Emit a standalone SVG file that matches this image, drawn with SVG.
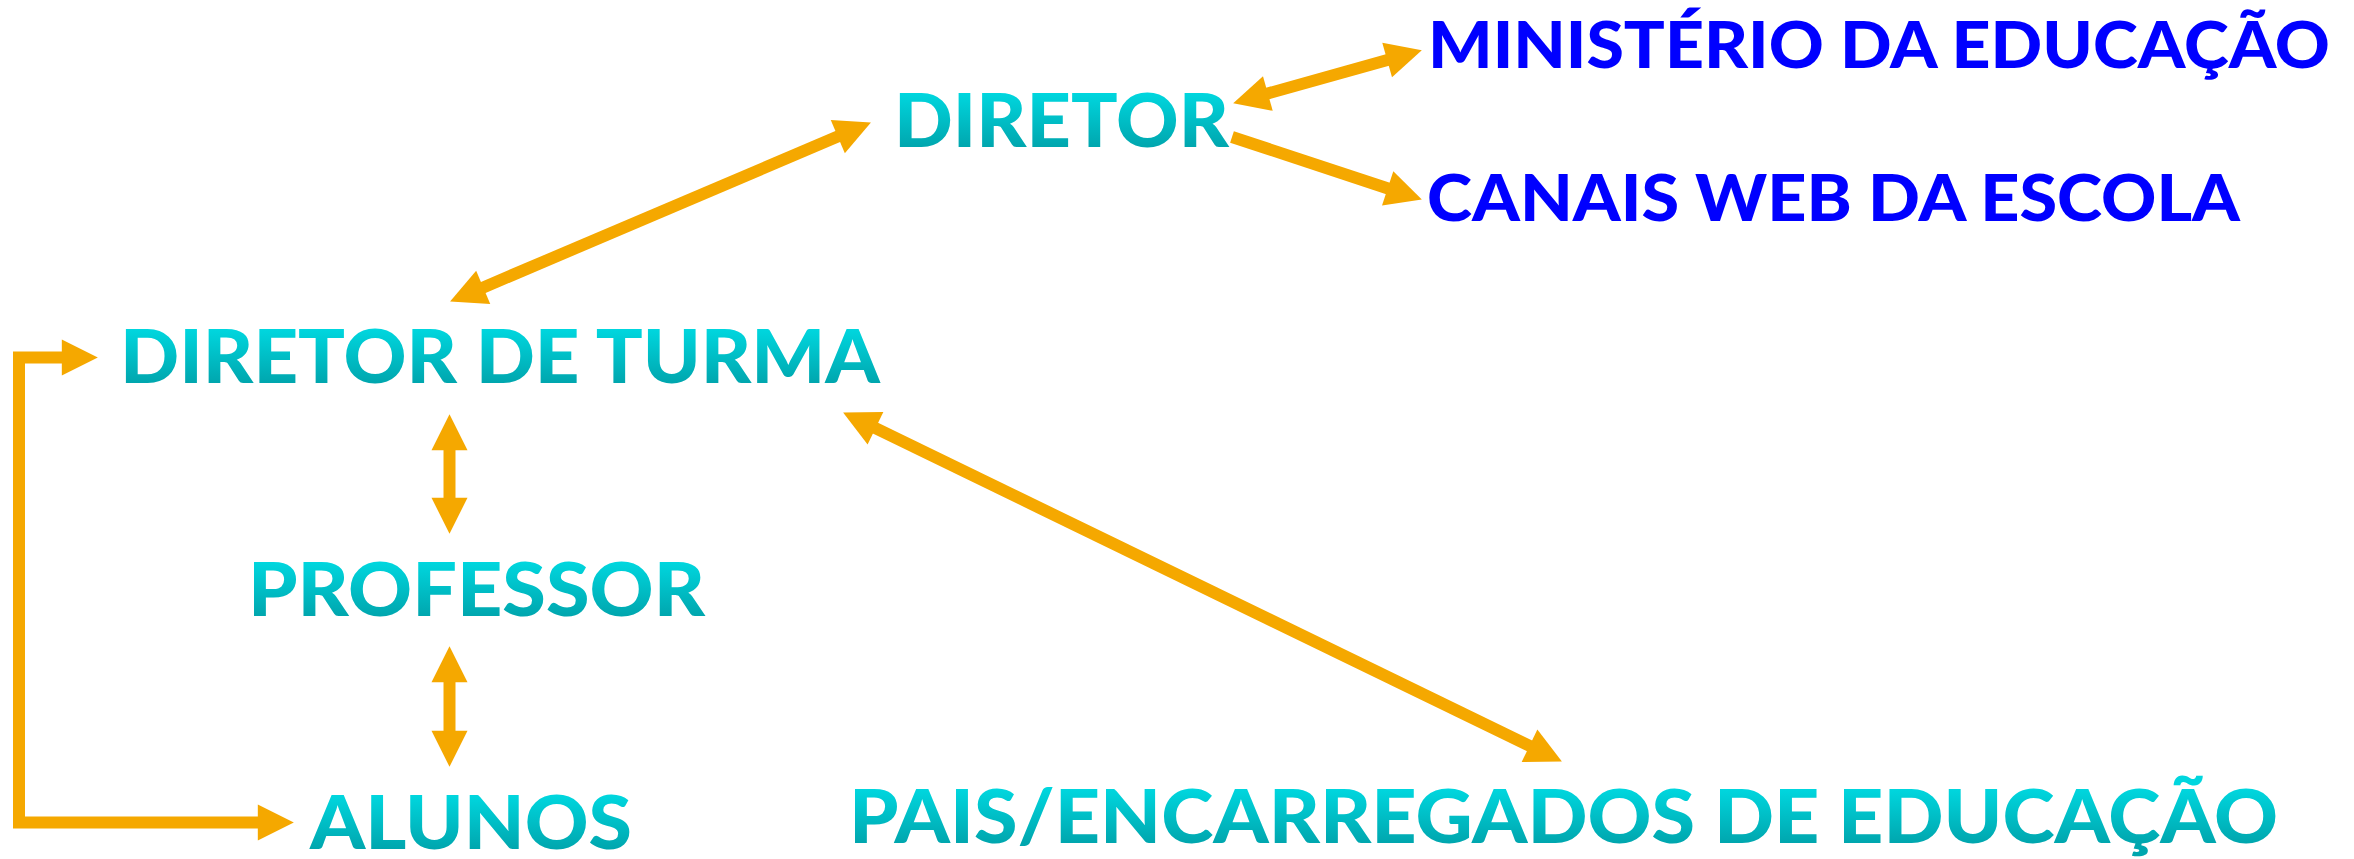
<svg xmlns="http://www.w3.org/2000/svg" width="2354" height="859" viewBox="0 0 2354 859">
  <defs>
    <linearGradient id="teal" x1="0" y1="0" x2="0" y2="1">
      <stop offset="0.22" stop-color="#00d6de"/>
      <stop offset="0.82" stop-color="#00a6ae"/>
    </linearGradient>
    <marker id="head" viewBox="0 -1.5 3 3" markerWidth="3" markerHeight="3" refX="0.1" refY="0" orient="auto-start-reverse" markerUnits="strokeWidth" overflow="visible">
      <path d="M0,-1.5 L3,0 L0,1.5 Z" fill="#f5a800"/>
    </marker>
    <style>
      .node text { font-family: Lato, "Liberation Sans", sans-serif; font-weight: 900; }
      .main { font-size: 74px; fill: url(#teal); }
      .ext { font-size: 64px; fill: #0000ff; }
      .conn path { fill: none; stroke: #f5a800; stroke-width: 12; stroke-linejoin: miter; }
      .both { marker-start: url(#head); marker-end: url(#head); }
      .one { marker-end: url(#head); }
    </style>
  </defs>
  <rect width="2354" height="859" fill="#ffffff"/>
  <g class="conn" id="connectors">
    <path class="both" d="M482.1,287.9 L838.9,136.1"/>
    <path class="both" d="M1266.7,93.8 L1388.3,59.7"/>
    <path class="one" d="M1232,137 L1388.8,188.7"/>
    <path class="both" d="M874.4,427.7 L1530.6,746.3"/>
    <path class="both" d="M449.5,449 L449.5,499"/>
    <path class="both" d="M449.5,681 L449.5,732"/>
    <path class="both" d="M63,357.5 H19 V822.5 H259"/>
  </g>
  <g class="node" id="diretor"><text class="main" x="894" y="147" textLength="335" lengthAdjust="spacingAndGlyphs">DIRETOR</text></g>
  <g class="node" id="ministerio"><text class="ext" x="1428" y="68" textLength="902" lengthAdjust="spacingAndGlyphs">MINISTÉRIO DA EDUCAÇÃO</text></g>
  <g class="node" id="canais"><text class="ext" x="1427" y="221" textLength="813" lengthAdjust="spacingAndGlyphs">CANAIS WEB DA ESCOLA</text></g>
  <g class="node" id="diretor-turma"><text class="main" x="120" y="383" textLength="760" lengthAdjust="spacingAndGlyphs">DIRETOR DE TURMA</text></g>
  <g class="node" id="professor"><text class="main" x="248" y="616" textLength="457" lengthAdjust="spacingAndGlyphs">PROFESSOR</text></g>
  <g class="node" id="alunos"><text class="main" x="310" y="849" textLength="322" lengthAdjust="spacingAndGlyphs">ALUNOS</text></g>
  <g class="node" id="pais"><text class="main" x="849" y="843" textLength="1429" lengthAdjust="spacingAndGlyphs">PAIS/ENCARREGADOS DE EDUCAÇÃO</text></g>
</svg>
